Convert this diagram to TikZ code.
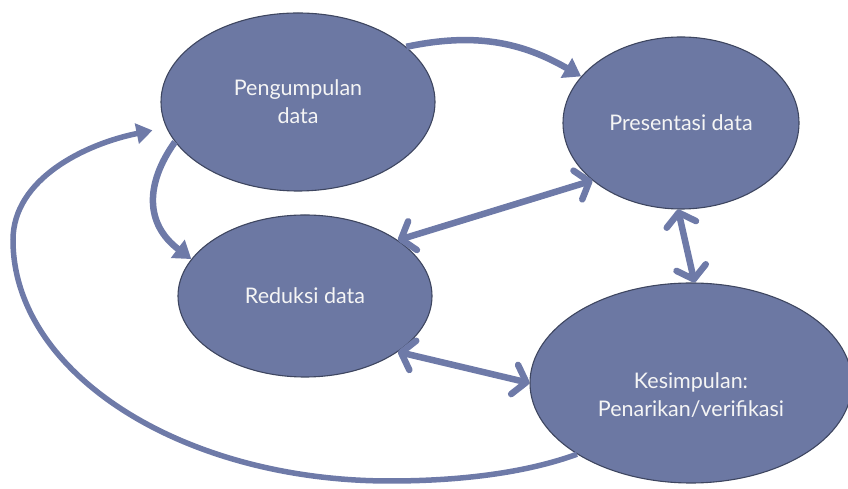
\documentclass[tikz,border=0pt]{standalone}
\usepackage{fontspec}
\setmainfont{Lato}
\usetikzlibrary{arrows.meta,shapes.geometric}
\definecolor{fillc}{RGB}{108,120,163}
\definecolor{edgec}{RGB}{62,70,96}
\definecolor{arrc}{RGB}{110,122,168}
\definecolor{txtc}{RGB}{245,245,245}
\tikzset{
  txt/.style={text=txtc, font=\fontsize{21.5}{28}\selectfont, align=center},
  bub/.style={ellipse, draw=edgec, line width=1.1pt, fill=fillc, inner sep=0pt, txt},
  flow/.style={draw=arrc, line width=6.5pt, -{Triangle[length=17pt,width=22pt]}},
  loopflow/.style={draw=arrc, line width=5.5pt, -{Triangle[length=16pt,width=20pt]}},
  both/.style={draw=arrc, line width=6.5pt, {Straight Barb[length=12pt,width=30pt,round]}-{Straight Barb[length=12pt,width=30pt,round]}},
}
\begin{document}
\begin{tikzpicture}[x=1pt,y=1pt]
\useasboundingbox (0,0) rectangle (848,489);
\node[bub, minimum width=274pt, minimum height=178pt] (P) at (298,387) {Pengumpulan\\data};
\node[bub, minimum width=236pt, minimum height=172pt] (S) at (681,366) {Presentasi data};
\node[bub, minimum width=254pt, minimum height=162pt] (R) at (305,193) {Reduksi data};
\node[bub, minimum width=322pt, minimum height=200pt,
      label={[txt,yshift=-12pt]center:{Kesimpulan:\\Penarikan/verifikasi}}] (K) at (691,106) {};
\draw[flow] (P.27) to[out=12,in=150] (S.155);
\draw[flow] (P.198) .. controls (145,305) and (145,265) .. (R.162);
\draw[loopflow, shorten >=14pt] (K.212) .. controls (520,14) and (450,8) .. (390,8)
   .. controls (182,8) and (13,116) .. (13,249)
   .. controls (13,310) and (85,345) .. (P.191);
\draw[both] (S.213) -- (R.31);
\draw[both] (S.268) -- (K.88);
\draw[both] (R.329) -- (K.180);
\end{tikzpicture}
\end{document}
